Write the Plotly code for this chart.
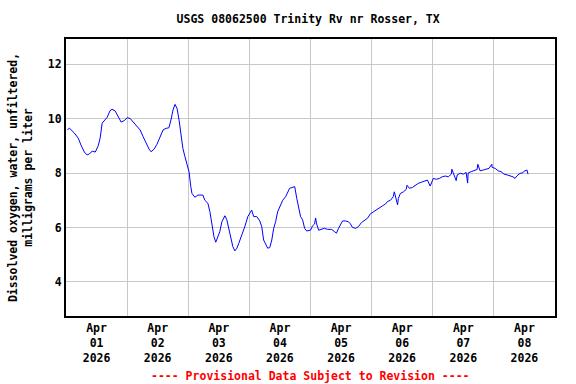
import pandas as pd
import plotly.graph_objects as go

start = "2026-04-01 00:00"
# hours since Apr 01 2026 00:00
hours = [0.6, 1.3, 3.25, 4.8, 6.0, 7.2, 8.3, 9.1, 10.3, 11.5, 12.65, 13.4, 14.2, 15.4, 16.2,
         17.3, 18.1, 19.3, 20.5, 21.65, 22.8, 24.0, 25.2, 26.35, 27.5, 29.1, 30.3, 31.4, 32.6,
         33.4, 34.6, 35.7, 36.9, 38.1, 39.3, 40.4, 41.2, 42.0, 42.8, 43.6, 44.4, 45.1, 45.9,
         46.7, 47.5, 48.3, 49.0, 49.45, 50.6, 51.8, 52.6, 53.75, 54.5, 55.7, 56.5, 57.3, 58.1,
         58.8, 59.6, 60.4, 61.2, 62.4, 63.15, 63.9, 64.7, 65.5, 66.3, 67.1, 67.85, 68.6, 69.4,
         70.2, 71.4, 72.2, 72.9, 73.7, 74.9, 76.1, 76.85, 77.6, 78.4, 79.2, 80.0, 80.8, 81.55,
         82.3, 83.1, 84.3, 85.1, 86.25, 87.0, 87.8, 88.6, 89.8, 90.6, 91.3, 92.1, 92.9, 93.7,
         94.5, 95.3, 96.0, 96.8, 97.6, 98.0, 98.4, 99.2, 100.35, 101.5, 102.7, 104.3, 105.4,
         106.2, 107.0, 107.8, 108.6, 109.75, 110.9, 111.7, 112.5, 113.7, 114.8, 116.0, 117.2,
         118.4, 119.5, 120.7, 121.9, 123.1, 124.2, 125.4, 126.2, 127.4, 128.5, 128.9, 129.3,
         130.2, 130.5, 131.3, 132.5, 133.6, 133.9, 134.8, 136.0, 137.2, 138.3, 139.5, 140.7,
         141.9, 143.0, 144.2, 145.4, 146.6, 147.7, 148.9, 150.1, 151.3, 151.5, 152.4, 153.2,
         153.6, 154.8, 156.0, 157.1, 157.7, 157.9, 159.1, 160.3, 161.4, 161.7, 162.6, 163.8,
         165.0, 166.1, 167.2, 167.3, 168.5, 169.7, 170.8, 172.0, 173.2, 174.4, 175.5, 176.3,
         177.1, 178.3, 179.1, 180.2, 181.0, 181.4]
do_mgl = [9.58, 9.65, 9.47, 9.28, 9.0, 8.77, 8.66, 8.7, 8.8, 8.77, 9.0, 9.28, 9.83, 9.94, 10.05,
          10.29, 10.34, 10.28, 10.07, 9.87, 9.92, 10.03, 10.0, 9.88, 9.76, 9.58, 9.33, 9.09, 8.88,
          8.78, 8.88, 9.05, 9.33, 9.58, 9.64, 9.66, 9.94, 10.31, 10.52, 10.37, 9.94, 9.39, 8.9,
          8.6, 8.36, 8.05, 7.5, 7.25, 7.11, 7.19, 7.19, 7.19, 7.0, 6.89, 6.58, 6.15, 5.66,
          5.46, 5.66, 5.85, 6.21, 6.43, 6.28, 5.97, 5.6, 5.3, 5.14, 5.24, 5.42, 5.6, 5.85,
          6.03, 6.4, 6.52, 6.64, 6.4, 6.4, 6.24, 6.03, 5.54, 5.36, 5.24, 5.26, 5.54, 5.97,
          6.21, 6.58, 6.83, 7.0, 7.13, 7.31, 7.44, 7.46, 7.5, 7.07, 6.7, 6.4, 6.28, 5.97,
          5.87, 5.9, 5.9, 6.06, 6.13, 6.35, 6.13, 5.9, 5.94, 5.97, 5.93, 5.93, 5.85,
          5.79, 5.97, 6.13, 6.24, 6.24, 6.21, 6.13, 6.0, 5.97, 6.03, 6.18, 6.25,
          6.34, 6.5, 6.58, 6.67, 6.74, 6.79, 6.86, 6.95, 7.0, 7.13, 7.31, 7.13,
          6.83, 7.07, 7.25, 7.31, 7.4, 7.55, 7.44, 7.47, 7.56, 7.62, 7.66, 7.71,
          7.74, 7.52, 7.8, 7.77, 7.8, 7.86, 7.89, 7.86, 7.96, 8.14, 7.93, 7.72,
          7.93, 7.99, 7.96, 8.02, 7.63, 8.0, 8.05, 8.08, 8.13, 8.32, 8.08, 8.11,
          8.13, 8.17, 8.32, 8.21, 8.17, 8.08, 8.05, 7.96, 7.93, 7.9, 7.86, 7.8,
          7.9, 7.99, 8.0, 8.08, 8.11, 7.96]

tick_days = ["01", "02", "03", "04", "05", "06", "07", "08"]
tick_month = "Apr"
tick_year = "2026"
title_text = "USGS 08062500 Trinity Rv nr Rosser, TX"
y_title = "Dissolved oxygen, water, unfiltered,<br>milligrams per liter"
footer = "---- Provisional Data Subject to Revision ----"

t0 = pd.Timestamp(start)
times = [t0 + pd.Timedelta(hours=h) for h in hours]
tickvals = [pd.Timestamp(f"2026-04-{d} 12:00") for d in tick_days]
ticktext = [f"{tick_month}<br>{d}<br>{tick_year}" for d in tick_days]

FONT = "DejaVu Sans Mono"
fig = go.Figure()
fig.add_trace(go.Scatter(x=times, y=do_mgl, mode="lines",
                         line=dict(color="#0000ff", width=1), showlegend=False,
                         hoverinfo="skip"))

fig.update_layout(
    width=576, height=384,
    margin=dict(l=64, r=21, t=39, b=68),
    paper_bgcolor="white", plot_bgcolor="white",
    font=dict(family=FONT, size=11, color="black", weight="bold"),
    title=dict(text=title_text, x=0.535, xanchor="center", y=0.95, yanchor="middle",
               font=dict(family=FONT, size=11.5, color="black", weight="bold")),
)
fig.update_xaxes(
    range=[pd.Timestamp("2026-04-01 00:00"), pd.Timestamp("2026-04-09 00:00")],
    tickmode="array", tickvals=tickvals, ticktext=ticktext,
    showgrid=False, ticks="", ticklen=0,
    tickfont=dict(family=FONT, size=11.5, color="black", weight="bold"),
    minor=dict(dtick=86400000, tick0="2026-04-01", showgrid=True,
               gridcolor="#c8c8c8", gridwidth=1, ticks=""),
    showline=True, linecolor="black", linewidth=2, mirror=True, zeroline=False,
)
fig.update_yaxes(
    range=[2.75, 12.92],
    tickvals=[4, 6, 8, 10, 12],
    showgrid=True, gridcolor="#c8c8c8", gridwidth=1,
    tickfont=dict(family=FONT, size=11.5, color="black", weight="bold"),
    ticks="", ticklen=0,
    title=dict(text=y_title, standoff=13,
               font=dict(family=FONT, size=11.5, color="black", weight="bold")),
    showline=True, linecolor="black", linewidth=2, mirror=True, zeroline=False,
)
fig.add_annotation(text=footer, xref="paper", yref="paper", x=0.5, y=-0.215,
                   xanchor="center", yanchor="middle", showarrow=False,
                   font=dict(family=FONT, size=11.5, color="red", weight="bold"))

fig.write_html("out.html", config={"displayModeBar": False},
               post_script="document.body.style.margin='0';")
